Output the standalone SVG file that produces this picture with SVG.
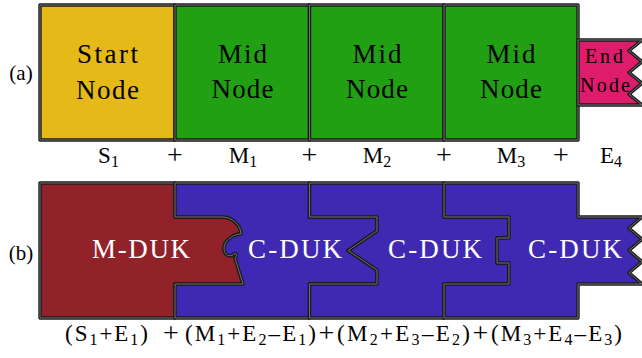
<svg xmlns="http://www.w3.org/2000/svg" width="642" height="358" viewBox="0 0 642 358" font-family="Liberation Serif, DejaVu Serif, serif">
  <defs>
    <style>
      .edge{stroke:#1a1a1a;stroke-width:3.4;stroke-linejoin:round}
      .edge-in{fill:none;stroke:#7a7a7a;stroke-width:0.9;stroke-linejoin:round}
      text{font-family:'Liberation Serif','DejaVu Serif',serif}
      .mid{text-anchor:middle}
      .node-txt{font-size:27px;fill:#000}
      .end-txt{font-size:20px;fill:#000}
      .duk-txt{font-size:27px;fill:#fff}
      .sum{font-size:23px;fill:#000}
      .plus{font-size:28px;fill:#000}
      .sub{font-size:16px}
    </style>
    <!-- row (a): plain nodes -->
    <path id="g-start" d="M40,5 H175 V140 H40 Z"/>
    <path id="g-mid1" d="M175,5 H309.5 V140 H175 Z"/>
    <path id="g-mid2" d="M309.5,5 H444 V140 H309.5 Z"/>
    <path id="g-mid3" d="M444,5 H578 V140 H444 Z"/>
    <path id="g-end" d="M578,40 H642 L629,50.8 L642,61.7 L629,72.5 L642,83.3 L629,94.2 L642,105 H578 Z"/>
    <!-- row (b): interlocking pieces -->
    <path id="g-mduk" d="M40,183 H175 V217 H222 C233,217 241,226 241,234 C234,234 224,240 224,248 C224,255 230,258 234,254 C236,252 238,255 235,258 L243,284 H175 V318 H40 Z"/>
    <path id="g-cduk1" d="M175,183 H309.5 V217 H377 V231 L348,250.5 L377,270 V284 H309.5 V318 H175 V284 H243 L235,258 C238,255 236,252 234,254 C230,258 224,255 224,248 C224,240 234,234 241,234 C241,226 233,217 222,217 H175 Z"/>
    <path id="g-cduk2" d="M309.5,183 H444 V217 H509 V238 H497 V263 H509 V284 H444 V318 H309.5 V284 H377 V270 L348,250.5 L377,231 V217 H309.5 Z"/>
    <path id="g-cduk3" d="M444,183 H578 V217 H642 L629,228.2 L642,239.3 L629,250.5 L642,261.7 L629,272.8 L642,284 H578 V318 H444 V284 H509 V263 H497 V238 H509 V217 H444 Z"/>
  </defs>

  <rect width="642" height="358" fill="#fff"/>

  <!-- row labels -->
  <text class="mid" x="21" y="80" font-size="21">(a)</text>
  <text class="mid" x="21" y="260" font-size="21">(b)</text>

  <!-- row (a) -->
  <g id="start-node">
    <use href="#g-start" class="edge" fill="#E5B918"/>
    <use href="#g-start" class="edge-in"/>
    <text class="mid node-txt" x="107.5" y="63" textLength="61">Start</text>
    <text class="mid node-txt" x="107.5" y="99" textLength="63">Node</text>
  </g>
  <g id="mid-node-1">
    <use href="#g-mid1" class="edge" fill="#21A014"/>
    <use href="#g-mid1" class="edge-in"/>
    <text class="mid node-txt" x="242.5" y="63" textLength="49">Mid</text>
    <text class="mid node-txt" x="242.5" y="98" textLength="62">Node</text>
  </g>
  <g id="mid-node-2">
    <use href="#g-mid2" class="edge" fill="#21A014"/>
    <use href="#g-mid2" class="edge-in"/>
    <text class="mid node-txt" x="377" y="63" textLength="49">Mid</text>
    <text class="mid node-txt" x="377" y="98" textLength="62">Node</text>
  </g>
  <g id="mid-node-3">
    <use href="#g-mid3" class="edge" fill="#21A014"/>
    <use href="#g-mid3" class="edge-in"/>
    <text class="mid node-txt" x="511" y="63" textLength="49">Mid</text>
    <text class="mid node-txt" x="511" y="98" textLength="62">Node</text>
  </g>
  <g id="end-node">
    <use href="#g-end" class="edge" fill="#DF1B6B"/>
    <use href="#g-end" class="edge-in"/>
    <text class="mid end-txt" x="604" y="63" textLength="38">End</text>
    <text class="mid end-txt" x="605" y="92" textLength="50">Node</text>
  </g>

  <!-- row (a) sum terms -->
  <g id="sum-a">
    <text class="mid sum" x="108.5" y="163">S<tspan class="sub" dy="4">1</tspan></text>
    <text class="mid plus" x="175" y="164">+</text>
    <text class="mid sum" x="243" y="163">M<tspan class="sub" dy="4">1</tspan></text>
    <text class="mid plus" x="309.5" y="164">+</text>
    <text class="mid sum" x="377" y="163">M<tspan class="sub" dy="4">2</tspan></text>
    <text class="mid plus" x="444" y="164">+</text>
    <text class="mid sum" x="511" y="163">M<tspan class="sub" dy="4">3</tspan></text>
    <text class="mid plus" x="561" y="164">+</text>
    <text class="mid sum" x="611" y="163">E<tspan class="sub" dy="4">4</tspan></text>
  </g>

  <!-- row (b) -->
  <g id="m-duk">
    <use href="#g-mduk" class="edge" fill="#91222A"/>
    <use href="#g-mduk" class="edge-in"/>
    <text class="mid duk-txt" x="141" y="258" textLength="98">M-DUK</text>
  </g>
  <g id="c-duk-1">
    <use href="#g-cduk1" class="edge" fill="#3F29B3"/>
    <use href="#g-cduk1" class="edge-in"/>
    <text class="mid duk-txt" x="295" y="258" textLength="94">C-DUK</text>
  </g>
  <g id="c-duk-2">
    <use href="#g-cduk2" class="edge" fill="#3F29B3"/>
    <use href="#g-cduk2" class="edge-in"/>
    <text class="mid duk-txt" x="435" y="258" textLength="94">C-DUK</text>
  </g>
  <g id="c-duk-3">
    <use href="#g-cduk3" class="edge" fill="#3F29B3"/>
    <use href="#g-cduk3" class="edge-in"/>
    <text class="mid duk-txt" x="575" y="258" textLength="94">C-DUK</text>
  </g>

  <!-- row (b) sum terms -->
  <g id="sum-b">
    <text class="sum" x="65" y="341" textLength="83">(S<tspan class="sub" dy="4">1</tspan><tspan dy="-4">+E</tspan><tspan class="sub" dy="4">1</tspan><tspan dy="-4">)</tspan></text>
    <text class="mid plus" x="171" y="342">+</text>
    <text class="sum" x="185" y="341" textLength="131">(M<tspan class="sub" dy="4">1</tspan><tspan dy="-4">+E</tspan><tspan class="sub" dy="4">2</tspan><tspan dy="-4">–E</tspan><tspan class="sub" dy="4">1</tspan><tspan dy="-4">)</tspan></text>
    <text class="mid plus" x="326.5" y="342">+</text>
    <text class="sum" x="337" y="341" textLength="133">(M<tspan class="sub" dy="4">2</tspan><tspan dy="-4">+E</tspan><tspan class="sub" dy="4">3</tspan><tspan dy="-4">–E</tspan><tspan class="sub" dy="4">2</tspan><tspan dy="-4">)</tspan></text>
    <text class="mid plus" x="480.5" y="342">+</text>
    <text class="sum" x="491" y="341" textLength="131">(M<tspan class="sub" dy="4">3</tspan><tspan dy="-4">+E</tspan><tspan class="sub" dy="4">4</tspan><tspan dy="-4">–E</tspan><tspan class="sub" dy="4">3</tspan><tspan dy="-4">)</tspan></text>
  </g>
</svg>
